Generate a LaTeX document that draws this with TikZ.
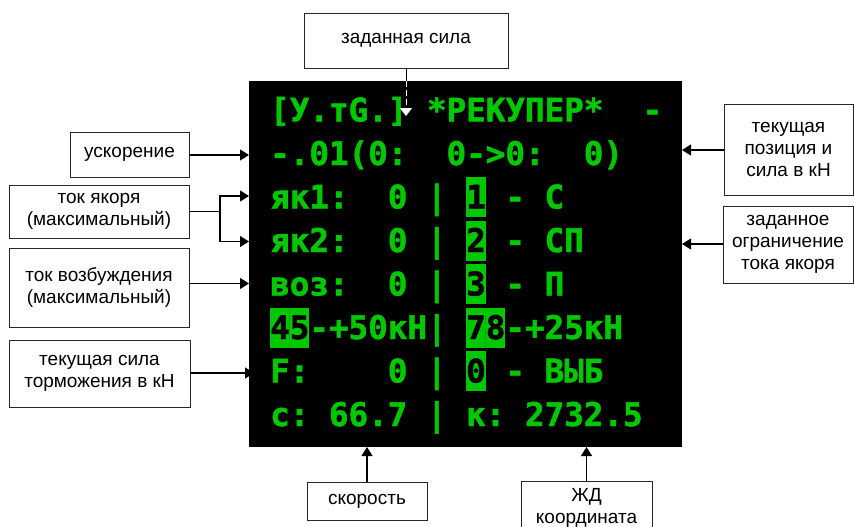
\documentclass[tikz,border=0pt]{standalone}
\usepackage{fontspec}
\setmainfont{Liberation Sans}
\newfontfamily\scrfont{DejaVu Sans Mono}[BoldFont={DejaVu Sans Mono Bold},BoldFeatures={FakeBold=1.5}]
\usetikzlibrary{arrows.meta}
\definecolor{scrgreen}{RGB}{0,200,0}
\definecolor{seamgreen}{RGB}{0,170,0}
\tikzset{
  annot/.style={draw=black!85, line width=0.9pt, fill=white, align=center, inner sep=0pt,
    font=\fontsize{19}{22}\selectfont},
  arr/.style={line width=1.1pt, -{Triangle[length=9pt,width=11pt]}},
  scrline/.style={anchor=base west, inner sep=0pt, text=scrgreen,
    font=\scrfont\bfseries\fontsize{32.56}{40}\selectfont},
  hl/.style={fill=scrgreen},
  seam/.style={draw=seamgreen, line width=0.5pt}
}
\begin{document}
\begin{tikzpicture}[x=1pt,y=-1pt]
\useasboundingbox (0,0) rectangle (854,527);
\fill[white] (0,0) rectangle (854,527);
% screen
\node[fill=black, minimum width=433pt, minimum height=366pt, inner sep=0pt] (scr) at (465.5,264) {};
% highlight cells
\fill[hl] (466,177) rectangle (485.6,217);
\fill[hl] (466,220.5) rectangle (485.6,260.5);
\fill[hl] (466,264) rectangle (485.6,304);
\fill[hl] (270,307.5) rectangle (309.2,347.5);
\fill[hl] (466,307.5) rectangle (505.2,347.5);
\fill[hl] (466,351) rectangle (485.6,391);
\draw[seam] (289.6,307.5) -- (289.6,347.5);
\draw[seam] (485.6,307.5) -- (485.6,347.5);
% screen text
\node[scrline] (ln1) at (270,121.5) {[У.тG.]\ *РЕКУПЕР*\ \ -};
\node[scrline] (ln2) at (270,165) {-.01(0:\ \ 0->0:\ \ 0)};
\node[scrline] (ln3) at (270,208.5) {як1:\ \ 0\ |\ \textcolor{black}{1}\ -\ С};
\node[scrline] (ln4) at (270,252) {як2:\ \ 0\ |\ \textcolor{black}{2}\ -\ СП};
\node[scrline] (ln5) at (270,295.5) {воз:\ \ 0\ |\ \textcolor{black}{3}\ -\ П};
\node[scrline] (ln6) at (270,339) {\textcolor{black}{45}-+50кН|\ \textcolor{black}{78}-+25кН};
\node[scrline] (ln7) at (270,382.5) {F:\ \ \ \ 0\ |\ \textcolor{black}{0}\ -\ ВЫБ};
\node[scrline] (ln8) at (270,426) {с:\ 66.7\ |\ к:\ 2732.5};
% annotation boxes
\node[annot, minimum width=204pt, minimum height=55pt] (zad) at (406,40.5) {заданная сила};
\node[annot, minimum width=119pt, minimum height=45pt] (usk) at (129.5,154.5) {ускорение};
\node[annot, minimum width=180pt, minimum height=53pt] (tok) at (99,211.5) {ток якоря\\(максимальный)};
\node[annot, minimum width=180pt, minimum height=79pt] (voz) at (99,287.5) {ток возбуждения\\(максимальный)};
\node[annot, minimum width=181pt, minimum height=67pt] (torm) at (99.5,373.5) {текущая сила\\торможения в кН};
\node[annot, minimum width=129pt, minimum height=91pt] (pos) at (788.5,149.5) {текущая\\позиция и\\сила в кН};
\node[annot, minimum width=130pt, minimum height=77pt] (ogr) at (788,244.5) {заданное\\ограничение\\тока якоря};
\node[annot, minimum width=120pt, minimum height=38pt] (skor) at (367,501) {скорость};
\node[annot, minimum width=131pt, minimum height=54pt] (zhd) at (586.5,508) {ЖД\\координата};
% connector end points
\coordinate (zadtop) at (406,81);
\coordinate (zadtip) at (406,116);
\coordinate (uskin) at (249,155);
\coordinate (br) at (220,211.5);
\coordinate (l3in) at (249,196);
\coordinate (l4in) at (249,241.5);
\coordinate (l5in) at (249,283.5);
\coordinate (tormin) at (254,373);
\coordinate (posin) at (682,150);
\coordinate (ogrin) at (682,244);
\coordinate (skorin) at (367,447);
\coordinate (zhdin) at (586.5,447);
% connectors
\draw[line width=1pt] (zad.south) -- (zadtop);
\draw[white, line width=1pt, dash pattern=on 6pt off 3pt, -{Triangle[length=8pt,width=12pt]}] (zadtop) -- (zadtip);
\draw[arr] (uskin -| usk.east) -- (uskin);
\draw[line width=1.1pt] (tok.east) -- (br);
\draw[arr] (br) |- (l3in);
\draw[arr] (br) |- (l4in);
\draw[arr] (l5in -| voz.east) -- (l5in);
\draw[arr] (tormin -| torm.east) -- (tormin);
\draw[arr] (posin -| pos.west) -- (posin);
\draw[arr] (ogrin -| ogr.west) -- (ogrin);
\draw[arr] (skor.north) -- (skorin);
\draw[arr] (zhd.north) -- (zhdin);
\end{tikzpicture}
\end{document}
